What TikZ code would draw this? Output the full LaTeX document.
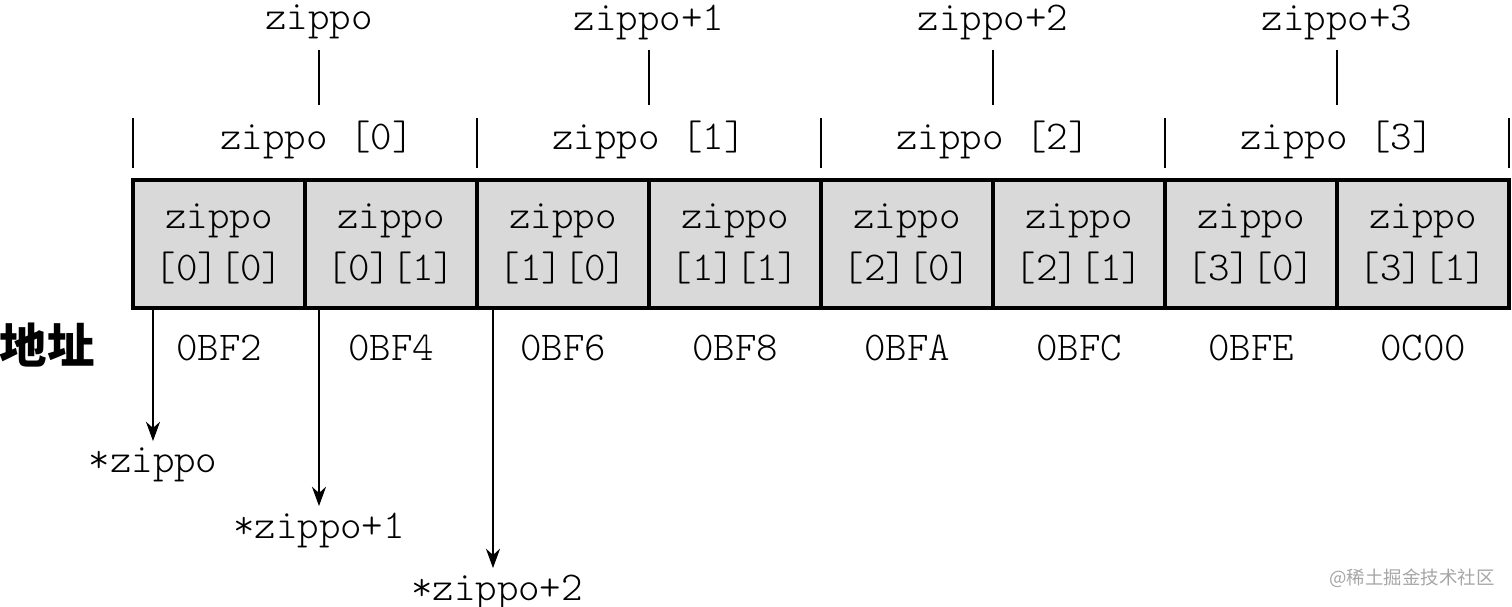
\documentclass[tikz,border=0pt]{standalone}
\usepackage{fontspec}
\setmonofont{lmmonolt10-regular.otf}
\newfontfamily\cjkfont{Noto Sans CJK SC}
\usetikzlibrary{shapes, arrows.meta, positioning, calc}

\tikzset{
  cellbox/.style={draw, line width=2.4pt, fill=gray!30, minimum width=3.44cm,
    minimum height=2.56cm, inner sep=0pt, align=center,
    font=\ttfamily\fontsize{23.3}{30}\selectfont},
  lbl/.style={font=\ttfamily\fontsize{23.3}{26}\selectfont, inner sep=1pt},
  brk/.style={line width=1.1pt},
  ptr/.style={line width=1.1pt, shorten >=2.8pt, -{Stealth[length=11pt, width=8pt]}}
}

\begin{document}
\begin{tikzpicture}[x=0.02cm, y=-0.02cm]
\useasboundingbox (0,0) rectangle (1512,607);

% pointers into the array
\node[lbl] (tz0) at (319,22) {zippo};
\node[lbl] (tz1) at (649,22) {zippo+1};
\node[lbl] (tz2) at (993,22) {zippo+2};
\node[lbl] (tz3) at (1337,22) {zippo+3};
\draw[brk] (319,50) -- (319,105);
\draw[brk] (649,50) -- (649,105);
\draw[brk] (993,50) -- (993,105);
\draw[brk] (1337,50) -- (1337,105);

% rows
\node[lbl] (row0) at (317,140) {zippo [0]};
\node[lbl] (row1) at (649,140) {zippo [1]};
\node[lbl] (row2) at (993,140) {zippo [2]};
\node[lbl] (row3) at (1337,140) {zippo [3]};
\draw[brk] (133,118) -- (133,168);
\draw[brk] (477,118) -- (477,168);
\draw[brk] (821,118) -- (821,168);
\draw[brk] (1165,118) -- (1165,168);
\draw[brk] (1509,118) -- (1509,168);

% elements
\node[cellbox] (c00) at (219,244) {zippo\\{[0][0]}};
\node[cellbox] (c01) at (391,244) {zippo\\{[0][1]}};
\node[cellbox] (c10) at (563,244) {zippo\\{[1][0]}};
\node[cellbox] (c11) at (735,244) {zippo\\{[1][1]}};
\node[cellbox] (c20) at (907,244) {zippo\\{[2][0]}};
\node[cellbox] (c21) at (1079,244) {zippo\\{[2][1]}};
\node[cellbox] (c30) at (1251,244) {zippo\\{[3][0]}};
\node[cellbox] (c31) at (1423,244) {zippo\\{[3][1]}};

% addresses
\node[font=\cjkfont\bfseries\fontsize{27}{30}\selectfont] (addr) at (47,345) {地址};
\node[lbl] (a00) at (219,348) {0BF2};
\node[lbl] (a01) at (391,348) {0BF4};
\node[lbl] (a10) at (563,348) {0BF6};
\node[lbl] (a11) at (735,348) {0BF8};
\node[lbl] (a20) at (907,348) {0BFA};
\node[lbl] (a21) at (1079,348) {0BFC};
\node[lbl] (a30) at (1251,348) {0BFE};
\node[lbl] (a31) at (1423,348) {0C00};

% dereferenced
\coordinate (s0) at (153,308);
\coordinate (s1) at (319,308);
\coordinate (s2) at (493,308);
\node[lbl, anchor=north] (p0) at (153,446) {*zippo};
\node[lbl, anchor=north] (p1) at (319,511) {*zippo+1};
\node[lbl, anchor=north] (p2) at (497,573) {*zippo+2};
\draw[ptr] (s0) -- (s0 |- p0.north);
\draw[ptr] (s1) -- (s1 |- p1.north);
\draw[ptr] (s2) -- (s2 |- p2.north);

\node[font=\cjkfont\fontsize{10.5}{12}\selectfont, text=gray!70] (wm) at (1412,578) {@稀土掘金技术社区};

\end{tikzpicture}
\end{document}
